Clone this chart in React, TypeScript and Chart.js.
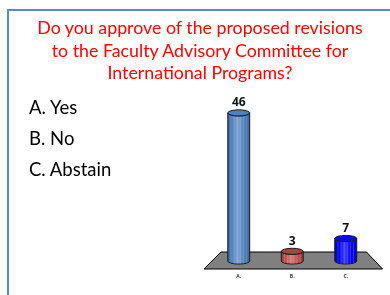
import React, { useEffect, useRef } from "react";
import { Chart, registerables } from "chart.js";

Chart.register(...registerables);

const categories = ["A.", "B.", "C."];
const votes = [46, 3, 7];
const barColors = ["#4F81BD", "#C0504D", "#0000FF"];
const barLight = ["#7DA3D3", "#D47C79", "#3C3CFF"];
const barDark = ["#3B6699", "#9A3B38", "#0000C8"];
const topColors = ["#4F81BD", "#A84440", "#0A0AF5"];
const answerLabels = ["A. Yes", "B. No", "C. Abstain"];
const questionLines = [
  "Do you approve of the proposed revisions",
  "to the Faculty Advisory Committee for",
  "International Programs?",
];

const FONT = "Lato, 'Open Sans', sans-serif";
const LABEL_FONT = "'Open Sans', 'Liberation Sans', sans-serif";

const cylinderPlugin = {
  id: "cylinders",
  beforeDatasetsDraw(chart: any) {
    const { ctx } = chart;
    const xs = chart.scales.x;
    const ys = chart.scales.y;
    const base = ys.getPixelForValue(0);
    ctx.save();
    ctx.beginPath();
    ctx.moveTo(xs.left + 9, base - 9);
    ctx.lineTo(xs.right - 6, base - 9);
    ctx.lineTo(xs.right + 10, base + 8);
    ctx.lineTo(xs.left - 8, base + 8);
    ctx.closePath();
    ctx.fillStyle = "#808080";
    ctx.fill();
    ctx.strokeStyle = "#000";
    ctx.lineWidth = 1;
    ctx.stroke();
    ctx.restore();
  },
  afterDatasetsDraw(chart: any) {
    const { ctx } = chart;
    const meta = chart.getDatasetMeta(0);
    meta.data.forEach((bar: any, i: number) => {
      const { x, y, base, width } = bar.getProps(["x", "y", "base", "width"], true);
      const rx = width / 2;
      const ry = width * 0.14;
      const l = x - rx;
      const r = x + rx;
      ctx.save();
      const g = ctx.createLinearGradient(l, 0, r, 0);
      g.addColorStop(0, barDark[i]);
      g.addColorStop(0.2, barColors[i]);
      g.addColorStop(0.45, barLight[i]);
      g.addColorStop(0.75, barColors[i]);
      g.addColorStop(1, barDark[i]);
      ctx.beginPath();
      ctx.moveTo(l, y);
      ctx.lineTo(l, base);
      ctx.ellipse(x, base, rx, ry, 0, Math.PI, 0, true);
      ctx.lineTo(r, y);
      ctx.ellipse(x, y, rx, ry, 0, 0, Math.PI, false);
      ctx.closePath();
      ctx.fillStyle = g;
      ctx.fill();
      ctx.strokeStyle = "#1a1a1a";
      ctx.lineWidth = 1;
      ctx.stroke();
      // stripes
      ctx.strokeStyle = "rgba(255,255,255,0.3)";
      ctx.lineWidth = 0.6;
      for (let k = 1; k < 7; k++) {
        const sx = l + (width * k) / 7;
        const off = ry * Math.sqrt(1 - Math.pow((sx - x) / rx, 2));
        ctx.beginPath();
        ctx.moveTo(sx, y + off);
        ctx.lineTo(sx, base + off);
        ctx.stroke();
      }
      // top ellipse
      ctx.beginPath();
      ctx.ellipse(x, y, rx, ry, 0, 0, Math.PI * 2);
      ctx.fillStyle = topColors[i];
      ctx.fill();
      ctx.strokeStyle = "#1a1a1a";
      ctx.lineWidth = 1;
      ctx.stroke();
      // value label
      ctx.fillStyle = "#111";
      ctx.font = "bold 12px " + LABEL_FONT;
      ctx.textAlign = "center";
      ctx.textBaseline = "bottom";
      ctx.fillText(String(votes[i]), x, y - ry - 1);
      // category label
      ctx.font = "bold 5px " + LABEL_FONT;
      ctx.fillStyle = "#333";
      ctx.textBaseline = "middle";
      ctx.fillText(categories[i], x, base + 16);
      ctx.restore();
    });
  },
};

export default function App() {
  const ref = useRef<HTMLCanvasElement>(null);
  useEffect(() => {
    const chart = new Chart(ref.current as HTMLCanvasElement, {
      type: "bar",
      data: {
        labels: categories,
        datasets: [
          {
            data: votes,
            backgroundColor: "rgba(0,0,0,0)",
            borderWidth: 0,
            categoryPercentage: 1,
            barPercentage: 0.41,
          },
        ],
      },
      options: {
        responsive: false,
        animation: false,
        devicePixelRatio: 1,
        layout: { padding: { left: 212, right: 17.5, top: 100, bottom: 34 } },
        plugins: { legend: { display: false }, tooltip: { enabled: false } },
        scales: {
          x: { display: false },
          y: { display: false, min: 0, max: 50 },
        },
      },
      plugins: [cylinderPlugin],
    });
    return () => chart.destroy();
  }, []);

  return (
    <div
      style={{
        position: "fixed",
        left: 0,
        top: 0,
        width: 390,
        height: 295,
        background: "#fff",
        overflow: "hidden",
        fontFamily: FONT,
      }}
    >
      <canvas
        ref={ref}
        width={390}
        height={295}
        style={{ position: "absolute", left: 0, top: 0, width: 390, height: 295 }}
      />
      <div
        style={{
          position: "absolute",
          left: 7,
          top: 9,
          width: 420,
          height: 400,
          borderLeft: "2px solid #5B8BCB",
          borderTop: "2px solid #5B8BCB",
        }}
      />
      <div
        style={{
          position: "absolute",
          left: 10,
          width: 380,
          top: 16,
          textAlign: "center",
          color: "#FF0000",
          fontSize: 17.8,
          lineHeight: "22.5px",
        }}
      >
        {questionLines.map((t, i) => (
          <div key={i}>{t}</div>
        ))}
      </div>
      <div style={{ position: "absolute", left: 29, top: 95, color: "#000", fontSize: 18.5 }}>
        {answerLabels.map((t, i) => (
          <div key={i} style={{ height: 31, lineHeight: "24px" }}>
            {t}
          </div>
        ))}
      </div>
    </div>
  );
}
